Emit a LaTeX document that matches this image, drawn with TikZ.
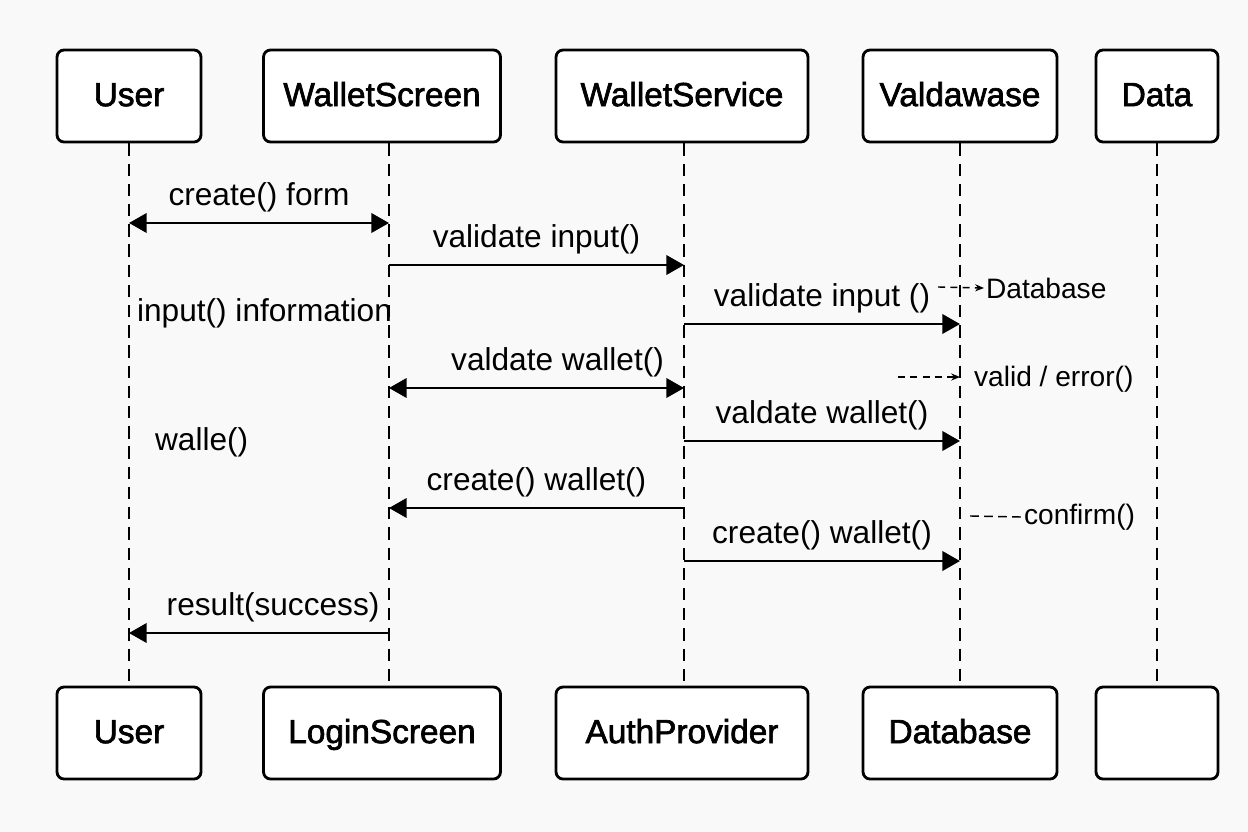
\documentclass[tikz,border=0pt]{standalone}
\usepackage{fontspec}
\setmainfont{Liberation Sans}
\newfontfamily\actorfont[FakeBold=2]{Liberation Sans}
\usetikzlibrary{arrows.meta}

\tikzset{
  actor/.style={draw, line width=1.6pt, rounded corners=4pt, fill=white,
    minimum height=1.84cm, text height=14pt, text depth=2.5pt,
    font=\actorfont\fontsize{19}{22}\selectfont},
  lifeline/.style={line width=0.8pt, dash pattern=on 7pt off 4.5pt},
  msg/.style={line width=1.4pt, -{Triangle[length=10pt,width=11pt]}},
  bimsg/.style={msg, {Triangle[length=10pt,width=11pt]}-{Triangle[length=10pt,width=11pt]}},
  lbl/.style={font=\fontsize{18}{21}\selectfont, above=2pt},
  note/.style={font=\fontsize{16}{19}\selectfont, anchor=west, inner sep=1pt},
  notearrow/.style={line width=0.8pt, dash pattern=on 4pt off 3pt, -{Stealth[length=5pt,width=4pt]}}
}

\begin{document}
\begin{tikzpicture}[x=0.02cm, y=-0.02cm]
\useasboundingbox (0,0) rectangle (1248,832);
\fill[gray!5] (0,0) rectangle (1248,832);

% participants, top row
\node[actor, minimum width=2.88cm] (userTop) at (129,96) {User};
\node[actor, minimum width=4.74cm] (screenTop) at (382,96) {WalletScreen};
\node[actor, minimum width=5.04cm] (serviceTop) at (682,96) {WalletService};
\node[actor, minimum width=3.88cm] (dbTop) at (960,96) {Valdawase};
\node[actor, minimum width=2.44cm] (dataTop) at (1157,96) {Data};

% participants, bottom row
\node[actor, minimum width=2.88cm] (userBot) at (129,733) {User};
\node[actor, minimum width=4.74cm] (screenBot) at (382,733) {LoginScreen};
\node[actor, minimum width=5.04cm] (serviceBot) at (682,733) {AuthProvider};
\node[actor, minimum width=3.88cm] (dbBot) at (960,733) {Database};
\node[actor, minimum width=2.44cm] (dataBot) at (1157,733) {};

% lifelines
\coordinate (uL) at (129,0);
\coordinate (wsL) at (389,0);
\coordinate (svL) at (684,0);
\coordinate (dbL) at (960,0);
\coordinate (daL) at (1157,0);
\draw[lifeline] (uL |- userTop.south) -- (uL |- userBot.north);
\draw[lifeline] (wsL |- screenTop.south) -- (wsL |- screenBot.north);
\draw[lifeline] (svL |- serviceTop.south) -- (svL |- serviceBot.north);
\draw[lifeline] (dbL |- dbTop.south) -- (dbL |- dbBot.north);
\draw[lifeline] (daL |- dataTop.south) -- (daL |- dataBot.north);

% messages
\draw[bimsg] (uL |- 0,223) -- node[lbl] {create() form} (wsL |- 0,223);
\draw[msg] (wsL |- 0,265) -- node[lbl] {validate input()} (svL |- 0,265);
\draw[msg] (svL |- 0,324) -- node[lbl] {validate input ()} (dbL |- 0,324);
\draw[bimsg] (wsL |- 0,388) -- node[lbl, xshift=12] {valdate wallet()} (svL |- 0,388);
\draw[msg] (svL |- 0,441) -- node[lbl] {valdate wallet()} (dbL |- 0,441);
\draw[msg] (svL |- 0,508) -- node[lbl] {create() wallet()} (wsL |- 0,508);
\draw[msg] (svL |- 0,561) -- node[lbl] {create() wallet()} (dbL |- 0,561);
\draw[msg] (wsL |- 0,633) -- node[lbl, xshift=8] {result(success)} (uL |- 0,633);

% loose notes
\node[note, font=\fontsize{18}{21}\selectfont] (inputNote) at (135,313) {input() information};
\node[note, font=\fontsize{18}{21}\selectfont] (walleNote) at (153,442) {walle()};

\coordinate (dbArrow) at (938,287);
\node[note] (dbNote) at (984,288) {Database};
\draw[notearrow] (dbArrow) -- (dbNote.west);

\coordinate (validArrow) at (898,377);
\node[note] (validNote) at (972,379) {valid / error()};
\draw[notearrow] (validArrow) -- (validArrow -| dbL);

\coordinate (confirmStart) at (970,516);
\node[note] (confirmNote) at (1022,517) {confirm()};
\draw[line width=0.8pt, dash pattern=on 5pt off 3pt] (confirmStart) -- (confirmNote.west);
\end{tikzpicture}
\end{document}
